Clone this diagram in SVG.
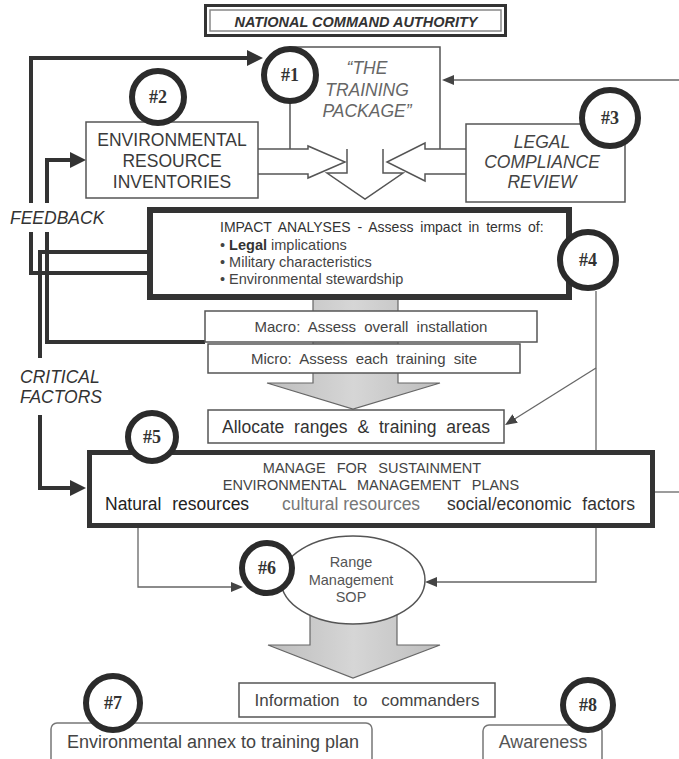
<svg xmlns="http://www.w3.org/2000/svg" width="679" height="759" viewBox="0 0 679 759">
<style>
text{font-family:"Liberation Sans",Arial,sans-serif;fill:#3a3a3a}
.box{fill:#fff;stroke:#555;stroke-width:1.5}
.thick{fill:none;stroke:#333;stroke-width:4;stroke-linejoin:miter}
.thin{fill:none;stroke:#666;stroke-width:1.3}
.outl{fill:#fff;stroke:#555;stroke-width:1.5;stroke-linejoin:miter}
.garrow{fill:url(#gg);stroke:#666;stroke-width:1.2}
.badge circle{fill:#fff;stroke:#2b2b2b;stroke-width:6}
.badge text{font-family:"Liberation Serif","Times New Roman",serif;font-weight:bold;font-size:18px;fill:#333;text-anchor:middle}
.c{text-anchor:middle}
.t17{font-size:17.5px}
.it{font-style:italic}
.lbl{font-size:17.5px;font-style:italic;fill:#333}
</style>
<defs>
<linearGradient id="gg" x1="0" y1="0" x2="1" y2="0">
<stop offset="0" stop-color="#bdbdbd"/><stop offset="0.5" stop-color="#d6d6d6"/><stop offset="1" stop-color="#bdbdbd"/>
</linearGradient>
<marker id="ahT" viewBox="0 0 16 16" refX="4" refY="8" markerWidth="16" markerHeight="16" markerUnits="userSpaceOnUse" orient="auto"><path d="M0,0 L16,8 L0,16 z" fill="#333"/></marker>
<marker id="ahS" viewBox="0 0 12 10" refX="3" refY="5" markerWidth="12" markerHeight="10" markerUnits="userSpaceOnUse" orient="auto"><path d="M0,0 L12,5 L0,10 z" fill="#444"/></marker>
</defs>
<rect width="679" height="759" fill="#fff"/>

<!-- block arrows (gray) -->
<g id="flow-arrows">
<path class="garrow" d="M313,298 V383 H267 L353,409 L440,383 H398 V298 Z"/>
<path class="garrow" d="M310,612 V645 H268 L353,678 L440,645 H397 V612 Z"/>
</g>

<!-- connectors -->
<g id="connectors">
<path class="thick" d="M147,273 H31 V232 M31,203 V58 H251" marker-end="url(#ahT)"/>
<path class="thick" d="M205,342 H47 V232 M47,203 V160 H74" marker-end="url(#ahT)"/>
<path class="thick" d="M147,252 H40 V358 M40,415 V488 H74" marker-end="url(#ahT)"/>
<path class="thin" d="M679,80 H451" marker-end="url(#ahS)"/>
<path class="thin" d="M596,291 V451"/>
<path class="thin" d="M596,368 L512.6,420.2" marker-end="url(#ahS)"/>
<path class="thin" d="M596,528 V582 H434" marker-end="url(#ahS)"/>
<path class="thin" d="M138,528 V587 H234" marker-end="url(#ahS)"/>
<path class="thin" d="M655,492 H679"/>
</g>

<g id="labels">
<text class="lbl" x="10" y="224">FEEDBACK</text>
<text class="lbl" x="20" y="383">CRITICAL</text>
<text class="lbl" x="20" y="403">FACTORS</text>
</g>

<g id="nca">
<rect x="205.5" y="5.5" width="300" height="30" fill="#fff" stroke="#333" stroke-width="3"/>
<rect x="210" y="10" width="291" height="21" fill="#fff" stroke="#888" stroke-width="1.5"/>
<text class="c" x="356" y="27" style="font-size:14.5px;font-weight:bold;font-style:italic;fill:#333">NATIONAL COMMAND AUTHORITY</text>
</g>

<g id="training-package">
<path class="outl" style="fill:none" d="M290,149 V47 H440 V149"/>
<path class="outl" d="M347,149 V173 H327 L365,199 L403,173 H383 V149"/>
<path class="outl" d="M258,149 H308 V146 L345,162 L308,178 V174 H258"/>
<path class="outl" d="M466,149 H425 V143 L387,162 L425,181 V174 H466"/>
<text class="c it t17" x="367" y="74" style="fill:#666">“THE</text>
<text class="c it t17" x="367" y="96" style="fill:#666">TRAINING</text>
<text class="c it t17" x="367" y="117" style="fill:#666">PACKAGE”</text>
</g>

<g id="env-inventories">
<rect class="box" x="86" y="122" width="172" height="76"/>
<text class="c t17" x="172" y="146">ENVIRONMENTAL</text>
<text class="c t17" x="172" y="167">RESOURCE</text>
<text class="c t17" x="172" y="188">INVENTORIES</text>
</g>

<g id="legal-review">
<rect class="box" x="466" y="124" width="159" height="78"/>
<text class="c it t17" x="542" y="148" style="fill:#444">LEGAL</text>
<text class="c it t17" x="542" y="168" style="fill:#444">COMPLIANCE</text>
<text class="c it t17" x="542" y="188" style="fill:#444">REVIEW</text>
</g>

<g id="impact-analyses">
<rect x="150" y="210" width="419" height="87" fill="#fff" stroke="#333" stroke-width="6"/>
<text x="220" y="232" style="font-size:14px;word-spacing:3px;fill:#333">IMPACT ANALYSES - Assess impact in terms of:</text>
<text x="220" y="250" style="font-size:14.5px;fill:#444">• <tspan style="font-weight:bold;fill:#333">Legal</tspan> implications</text>
<text x="220" y="267" style="font-size:14.5px;fill:#444">• Military characteristics</text>
<text x="220" y="284" style="font-size:14.5px;fill:#444">• Environmental stewardship</text>
</g>

<g id="macro">
<rect class="box" x="205" y="311" width="332" height="31"/>
<text class="c" x="371" y="332" style="font-size:15px;word-spacing:4px;fill:#444">Macro: Assess overall installation</text>
</g>

<g id="micro">
<rect class="box" x="208" y="344" width="312" height="29"/>
<text class="c" x="364" y="364" style="font-size:15px;word-spacing:4px;fill:#444">Micro: Assess each training site</text>
</g>

<g id="allocate">
<rect class="box" x="208" y="410" width="296" height="33"/>
<text class="c t17" x="356" y="433" style="word-spacing:5px;fill:#333">Allocate ranges &amp; training areas</text>
</g>

<g id="manage-sustainment">
<rect x="89.5" y="452.5" width="563" height="73" fill="#fff" stroke="#333" stroke-width="5"/>
<text class="c" x="372" y="473" style="font-size:14.5px;word-spacing:7px;fill:#444">MANAGE FOR SUSTAINMENT</text>
<text class="c" x="371" y="490" style="font-size:14.5px;word-spacing:7px;fill:#444">ENVIRONMENTAL MANAGEMENT PLANS</text>
<text x="105" y="510" class="t17" style="word-spacing:6px;fill:#222">Natural resources</text>
<text x="282" y="510" class="t17" style="fill:#777">cultural resources</text>
<text x="447" y="510" class="t17" style="word-spacing:6px;fill:#333">social/economic factors</text>
</g>

<g id="range-sop">
<ellipse cx="353" cy="580" rx="72" ry="44" fill="#fff" stroke="#555" stroke-width="1.5"/>
<text class="c" x="351" y="567" style="font-size:14.5px;fill:#555">Range</text>
<text class="c" x="351" y="585" style="font-size:14.5px;fill:#555">Management</text>
<text class="c" x="351" y="602" style="font-size:14.5px;fill:#555">SOP</text>
</g>

<g id="info-commanders">
<rect class="box" x="239" y="683" width="256" height="34"/>
<text class="c" x="367" y="706" style="font-size:17px;word-spacing:9px;fill:#444">Information to commanders</text>
</g>

<g id="env-annex">
<rect x="51" y="723" width="321" height="48" rx="6" fill="#fff" stroke="#777" stroke-width="1.5"/>
<text class="c" x="213" y="748" style="font-size:18px;fill:#444">Environmental annex to training plan</text>
</g>

<g id="awareness">
<rect x="483" y="725" width="119" height="46" rx="6" fill="#fff" stroke="#777" stroke-width="1.5"/>
<text class="c" x="543" y="748" style="font-size:18px;fill:#555">Awareness</text>
</g>

<g id="badge1" class="badge"><circle cx="290" cy="75" r="26"/><text x="290" y="81">#1</text></g>
<g id="badge2" class="badge"><circle cx="158" cy="97" r="26"/><text x="158" y="103">#2</text></g>
<g id="badge3" class="badge"><circle cx="610" cy="118" r="28"/><text x="610" y="124">#3</text></g>
<g id="badge4" class="badge"><circle cx="588" cy="260" r="28"/><text x="588" y="266">#4</text></g>
<g id="badge5" class="badge"><circle cx="152" cy="437" r="24"/><text x="152" y="443">#5</text></g>
<g id="badge6" class="badge"><circle cx="267" cy="568" r="25"/><text x="267" y="574">#6</text></g>
<g id="badge7" class="badge"><circle cx="113" cy="703" r="27"/><text x="113" y="709">#7</text></g>
<g id="badge8" class="badge"><circle cx="588" cy="705" r="25"/><text x="588" y="711">#8</text></g>
</svg>
